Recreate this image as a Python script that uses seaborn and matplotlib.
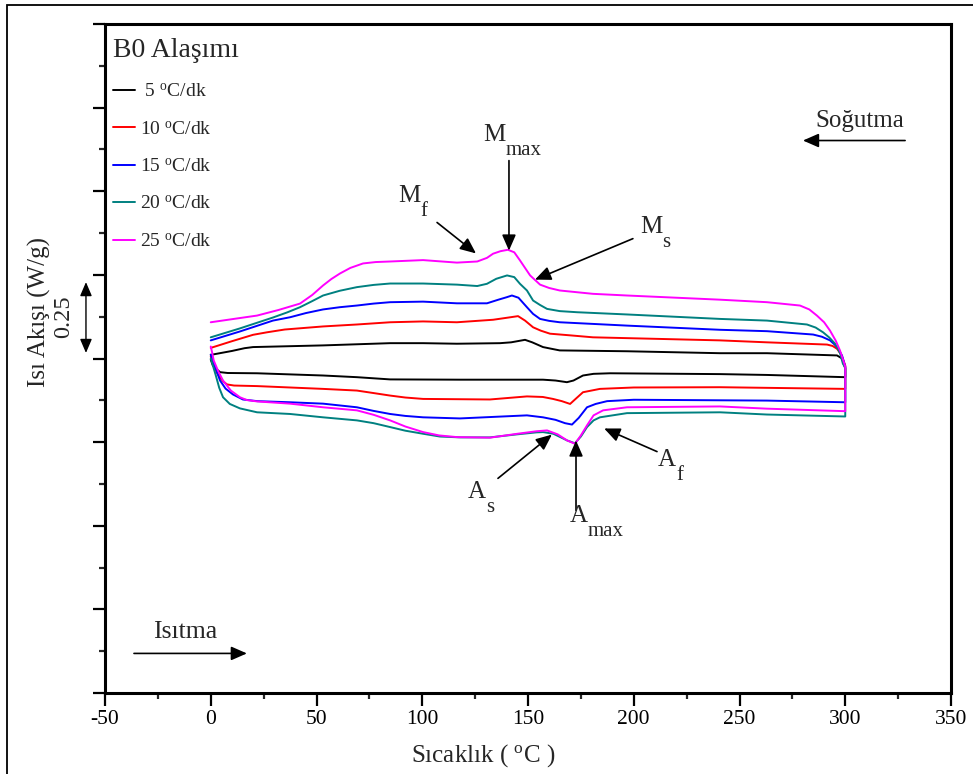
import numpy as np
import pandas as pd
import matplotlib
matplotlib.use("Agg")
import matplotlib.pyplot as plt
from matplotlib.ticker import MultipleLocator, NullFormatter
from matplotlib.patches import Rectangle
import seaborn as sns

# --- DSC heat-flow traces of alloy B0 (heating 0 -> 300 C, then cooling 300 -> 0 C) ---
rates = ["5", "10", "15", "20", "25"]
colors = ["#000000", "#ff0000", "#0000ff", "#008080", "#ff00ff"]

t_heat_5 = [0, 1, 2.4, 4.4, 8, 21.9, 53.1, 69.1, 84.8, 117.8, 157.1, 163, 168.4, 171.5, 176, 181, 188.8, 240.8, 263, 300]
q_heat_5 = [-0.004, -0.025, -0.036, -0.049, -0.052, -0.053, -0.061, -0.067, -0.075, -0.076, -0.076, -0.079, -0.085, -0.079, -0.061, -0.055, -0.053, -0.056, -0.059, -0.067]
t_cool_5 = [300, 298.5, 296.1, 263, 240.8, 196.8, 165, 161, 157.1, 152, 148.6, 142, 136.8, 116.4, 100.4, 84.8, 53.1, 20, 16, 10, 0]
q_cool_5 = [-0.036, 0.000, 0.011, 0.019, 0.019, 0.026, 0.029, 0.035, 0.041, 0.058, 0.067, 0.058, 0.055, 0.053, 0.055, 0.055, 0.047, 0.041, 0.037, 0.027, 0.013]

t_heat_10 = [0, 1.4, 3, 4.4, 6, 7.7, 11, 21.9, 53.1, 69.1, 77, 84.8, 92, 100.4, 132, 149.5, 157, 161.8, 166, 169.9, 172.5, 176, 180, 184, 200, 240.8, 300]
q_heat_10 = [0.007, -0.025, -0.052, -0.068, -0.083, -0.093, -0.097, -0.099, -0.109, -0.115, -0.124, -0.133, -0.140, -0.145, -0.147, -0.136, -0.138, -0.145, -0.153, -0.163, -0.145, -0.121, -0.115, -0.109, -0.104, -0.103, -0.109]
t_cool_10 = [300, 298, 296.1, 294, 291.4, 263, 240.8, 180.7, 170, 160.4, 156, 152.4, 148.6, 145.3, 139, 133.5, 116.4, 100.4, 84.8, 69.1, 53.1, 35, 26.6, 20, 10, 0]
q_cool_10 = [-0.025, 0.015, 0.035, 0.045, 0.050, 0.058, 0.065, 0.076, 0.083, 0.089, 0.100, 0.112, 0.136, 0.152, 0.145, 0.139, 0.130, 0.133, 0.130, 0.122, 0.115, 0.104, 0.094, 0.085, 0.062, 0.038]

t_heat_15 = [0, 1.5, 3, 4.4, 7, 10.5, 15.2, 22, 37.5, 53.1, 69.1, 77, 84.8, 92, 100.4, 117.8, 149.5, 157.1, 163, 167.5, 170.8, 174, 177.9, 182, 187.4, 200, 263, 300]
q_heat_15 = [0.014, -0.020, -0.050, -0.079, -0.108, -0.129, -0.147, -0.153, -0.157, -0.162, -0.175, -0.188, -0.199, -0.206, -0.211, -0.215, -0.204, -0.211, -0.220, -0.232, -0.237, -0.213, -0.175, -0.163, -0.153, -0.148, -0.151, -0.157]
t_cool_15 = [300, 298.5, 296.6, 295, 292.8, 289, 284.8, 263, 240.8, 196.8, 165, 160, 155.7, 152.4, 149.5, 145.5, 142.4, 140, 136, 130.6, 116.4, 100.4, 84.8, 77, 69.1, 61, 53.1, 45, 37.5, 29.4, 13.8, 0]
q_cool_15 = [-0.029, 0.010, 0.036, 0.050, 0.065, 0.078, 0.086, 0.098, 0.103, 0.118, 0.130, 0.135, 0.142, 0.160, 0.184, 0.218, 0.226, 0.220, 0.211, 0.198, 0.198, 0.204, 0.202, 0.197, 0.190, 0.184, 0.176, 0.163, 0.148, 0.136, 0.097, 0.065]

t_heat_20 = [0, 1, 2.4, 4, 5.8, 9, 13.8, 21.9, 37.5, 53.1, 69.1, 77, 84.8, 92, 100.4, 108.4, 118, 132, 145, 154, 157.1, 162, 168.5, 172.2, 175, 177.9, 181, 184, 196.8, 240.8, 263, 300]
q_heat_20 = [0.0, -0.025, -0.061, -0.105, -0.139, -0.163, -0.179, -0.193, -0.199, -0.211, -0.222, -0.232, -0.246, -0.259, -0.270, -0.280, -0.283, -0.283, -0.272, -0.265, -0.264, -0.270, -0.294, -0.304, -0.280, -0.246, -0.222, -0.211, -0.196, -0.193, -0.201, -0.208]
t_cool_20 = [300, 298.9, 297.5, 295.2, 292.5, 289.5, 286, 281.9, 263, 240.8, 196.8, 173.2, 165, 159, 155.7, 152.4, 149.5, 146.2, 143.5, 140.1, 135, 130.6, 126, 116.4, 100.4, 84.8, 77, 69.1, 61, 53.1, 48, 42.2, 36, 29.4, 13.8, 0]
q_cool_20 = [-0.032, -0.019, 0.020, 0.053, 0.075, 0.094, 0.111, 0.122, 0.136, 0.142, 0.158, 0.166, 0.170, 0.178, 0.192, 0.208, 0.244, 0.268, 0.292, 0.298, 0.286, 0.268, 0.260, 0.265, 0.269, 0.269, 0.264, 0.256, 0.243, 0.226, 0.206, 0.184, 0.165, 0.147, 0.108, 0.076]

t_heat_25 = [0, 0.7, 1.4, 3.5, 5.8, 9.5, 13.8, 17, 21.9, 37.5, 53.1, 69.1, 77, 84.8, 92, 100.4, 108, 116.4, 132, 145, 154, 159, 164, 168.5, 172.2, 175, 177.9, 181, 185.5, 196.8, 240.8, 263, 300]
q_heat_25 = [0.043, 0.020, -0.007, -0.045, -0.079, -0.115, -0.139, -0.149, -0.154, -0.162, -0.175, -0.186, -0.202, -0.222, -0.244, -0.264, -0.276, -0.282, -0.284, -0.270, -0.261, -0.258, -0.272, -0.294, -0.306, -0.276, -0.240, -0.204, -0.186, -0.175, -0.172, -0.180, -0.189]
t_cool_25 = [300, 299, 297.5, 295.5, 292.8, 290, 286.6, 283, 278.6, 263, 240.8, 196.8, 180.7, 165, 160, 155.7, 151, 148.6, 146.2, 143.5, 140.5, 137, 133.5, 130.6, 126, 116.4, 100.4, 84.8, 78, 72, 66, 61.1, 57, 53.1, 48, 42.2, 32, 21.9, 10, 0]
q_cool_25 = [-0.029, -0.005, 0.029, 0.064, 0.100, 0.130, 0.154, 0.176, 0.190, 0.202, 0.211, 0.226, 0.232, 0.244, 0.253, 0.265, 0.298, 0.325, 0.352, 0.381, 0.390, 0.385, 0.376, 0.361, 0.348, 0.344, 0.353, 0.348, 0.346, 0.341, 0.325, 0.305, 0.285, 0.262, 0.228, 0.197, 0.174, 0.154, 0.141, 0.130]

heat_T = [t_heat_5, t_heat_10, t_heat_15, t_heat_20, t_heat_25]
heat_Q = [q_heat_5, q_heat_10, q_heat_15, q_heat_20, q_heat_25]
cool_T = [t_cool_5, t_cool_10, t_cool_15, t_cool_20, t_cool_25]
cool_Q = [q_cool_5, q_cool_10, q_cool_15, q_cool_20, q_cool_25]

# --- style ---
sns.set_theme(style="ticks")
plt.rcParams["font.family"] = ["Liberation Serif", "DejaVu Serif"]
plt.rcParams["mathtext.fontset"] = "custom"
plt.rcParams["mathtext.rm"] = "Liberation Serif"
plt.rcParams["mathtext.it"] = "Liberation Serif:italic"
plt.rcParams["mathtext.bf"] = "Liberation Serif:bold"
plt.rcParams["axes.unicode_minus"] = False

deg = r"$^{\mathrm{o}}$"
labels = [(" " if r == "5" else "") + f"{r} {deg}C/dk" for r in rates]

frames = []
for lab, th, qh, tc, qc in zip(labels, heat_T, heat_Q, cool_T, cool_Q):
    t = list(th) + list(tc)
    q = list(qh) + list(qc)
    frames.append(pd.DataFrame({"T": t, "q": q, "rate": lab, "step": np.arange(len(t))}))
df = pd.concat(frames, ignore_index=True)

fig = plt.figure(figsize=(9.73, 7.74), dpi=100)
ax = fig.add_axes([105 / 973, 1 - 693 / 774, (951 - 105) / 973, (693 - 24) / 774])

sns.lineplot(data=df, x="T", y="q", hue="rate", palette=dict(zip(labels, colors)),
             sort=False, estimator=None, linewidth=1.4, ax=ax, legend=True)

ax.set_xlim(-50, 350)
ax.set_ylim(-1.2, 1.2)
ax.xaxis.set_major_locator(MultipleLocator(50))
ax.xaxis.set_minor_locator(MultipleLocator(25))
ax.yaxis.set_major_locator(MultipleLocator(0.3))
ax.yaxis.set_minor_locator(MultipleLocator(0.15))
ax.yaxis.set_major_formatter(NullFormatter())
ax.tick_params(axis="both", which="major", direction="out", length=9, width=1.6,
               labelsize=15.5, pad=3, colors="black")
ax.tick_params(axis="both", which="minor", direction="out", length=4.5, width=1.6)
ax.tick_params(axis="y", which="both", right=False, left=True)
ax.tick_params(axis="x", which="both", top=False, bottom=True)
for s in ax.spines.values():
    s.set_visible(True)
    s.set_linewidth(2.2)
    s.set_color("black")

ax.set_xlabel(f"Sıcaklık ( {deg}C )", fontsize=18, va="center")
ax.xaxis.set_label_coords(0.447, -0.094)
ax.set_ylabel("Isı Akışı (W/g)", fontsize=18, va="center")
ax.yaxis.set_label_coords(-0.077, 0.5695)

# legend with alloy name as title
handles, labs = ax.get_legend_handles_labels()
leg = ax.legend(handles, labs, title="B0 Alaşımı", loc="upper left",
                bbox_to_anchor=(-0.004, 0.996), frameon=False, fontsize=14,
                title_fontsize=20, alignment="left", handlelength=1.1,
                handletextpad=0.25, labelspacing=1.02, borderaxespad=0.2)

# scale bar for heat flow
ax.annotate("", xy=(-59, 0.02), xytext=(-59, 0.274), annotation_clip=False,
            arrowprops=dict(arrowstyle="<|-|>,head_length=0.7,head_width=0.3",
                            color="black", lw=1.0, shrinkA=0, shrinkB=0, mutation_scale=12))
ax.text(-69.4, 0.151, "0.25", rotation=90, ha="center", va="center", fontsize=17.5, clip_on=False)

arrow_kw = dict(arrowstyle="-|>,head_length=0.8,head_width=0.35", color="black",
                lw=1.2, shrinkA=0, shrinkB=0, mutation_scale=12)


def mark(main, sub, tx, ty, x0, y0, x1, y1):
    ax.annotate("", xy=(x1, y1), xytext=(x0, y0), arrowprops=arrow_kw)
    t = ax.text(tx, ty, main, ha="left", va="baseline", fontsize=18)
    ax.annotate(sub, xy=(1.0, 0.0), xycoords=t, xytext=(0, -6.5),
                textcoords="offset points", ha="left", va="baseline", fontsize=15)


mark("M", "max", 128.7, 0.782, 141, 0.710, 141, 0.387)
mark("M", "f", 88.5, 0.560, 107, 0.488, 125.4, 0.377)
mark("M", "s", 203, 0.452, 199.6, 0.430, 153.3, 0.283)
mark("A", "s", 121.6, -0.499, 135.8, -0.430, 161.3, -0.273)
mark("A", "max", 169.9, -0.588, 172.7, -0.545, 172.7, -0.294)
mark("A", "f", 211.5, -0.384, 211, -0.334, 186, -0.251)

# cooling / heating direction
ax.annotate("", xy=(280, 0.782), xytext=(328.3, 0.782), arrowprops=arrow_kw)
ax.text(285.7, 0.829, "Soğutma", ha="left", va="baseline", fontsize=18)
ax.annotate("", xy=(17.1, -1.058), xytext=(-36.3, -1.058), arrowprops=arrow_kw)
ax.text(-27.3, -1.001, "Isıtma", ha="left", va="baseline", fontsize=18.5)

# outer frame around the figure
fig.add_artist(Rectangle((7 / 973, -0.05), 1.2, 1.05 - 5 / 774, transform=fig.transFigure,
                         fill=False, edgecolor="black", lw=1.3))

fig.savefig("out.png", dpi=100)
